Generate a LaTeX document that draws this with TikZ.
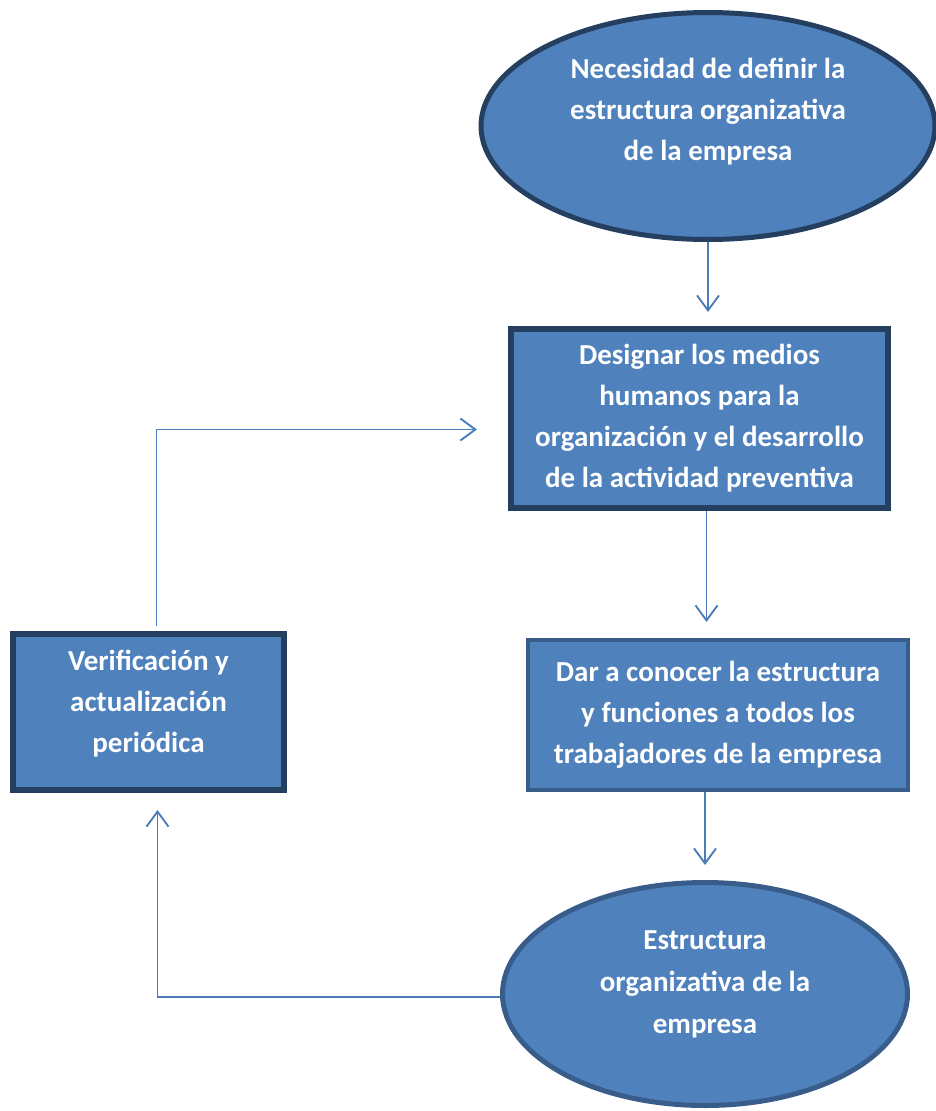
\documentclass[tikz,border=0pt]{standalone}
\usepackage{fontspec}
\setmainfont{Carlito}[BoldFont={Carlito Bold}]
\usepackage{tikz}
\usetikzlibrary{shapes.geometric,arrows.meta}
\definecolor{relleno}{HTML}{4F81BD}
\definecolor{oscuro}{HTML}{243F60}
\definecolor{medio}{HTML}{385D8A}
\definecolor{linea}{HTML}{4A7EBB}
\tikzstyle{texto} = [text=white, align=center, inner sep=0pt, font={\bfseries\fontsize{29pt}{41pt}\selectfont}]
\tikzstyle{ovalo} = [texto, ellipse, draw=oscuro, fill=relleno, line width=5pt]
\tikzstyle{caja} = [texto, rectangle, draw=oscuro, fill=relleno, line width=6pt]
\tikzstyle{flecha} = [draw=linea, line width=1.9pt, -{Straight Barb[length=15pt,width=22pt,line width=1.9pt]}]

\begin{document}
\begin{tikzpicture}[x=1pt, y=-1pt]
    \useasboundingbox (0,0) rectangle (935,1111);
    \node[ovalo, minimum width=454pt, minimum height=227pt, text depth=34pt] (necesidad) at (708,126)
        {Necesidad de definir la\\estructura organizativa\\de la empresa};
    \node[caja, minimum width=377pt, minimum height=179pt] (designar) at (699.5,418.5)
        {Designar los medios\\humanos para la\\organización y el desarrollo\\de la actividad preventiva};
    \node[caja, draw=medio, line width=4pt, minimum width=380pt, minimum height=150pt] (conocer) at (718,715)
        {Dar a conocer la estructura\\y funciones a todos los\\trabajadores de la empresa};
    \node[caja, minimum width=271pt, minimum height=156pt, text depth=22pt] (verificacion) at (148.5,712)
        {Verificación y\\actualización\\periódica};
    \node[ovalo, draw=medio, minimum width=405pt, minimum height=223pt, text depth=24pt,
          font={\bfseries\fontsize{29pt}{42pt}\selectfont}] (estructura) at (705,994)
        {Estructura\\organizativa de la\\empresa};
    % flechas
    \draw[flecha, shorten >=14pt] (necesidad.south) -- (necesidad.south |- designar.north);
    \draw[flecha, shorten >=16pt] ([xshift=7pt]designar.south) -- ([xshift=7pt]designar.south |- conocer.north);
    \draw[flecha, shorten >=15pt] (conocer.south -| estructura.north) -- (estructura.north);
    \draw[flecha, shorten >=31pt] ([xshift=8pt, yshift=5pt]verificacion.north) |- ([yshift=-11pt]designar.west);
    \draw[flecha, shorten >=17pt] ([yshift=-3pt]estructura.west) -| ([xshift=9pt]verificacion.south);
\end{tikzpicture}
\end{document}
